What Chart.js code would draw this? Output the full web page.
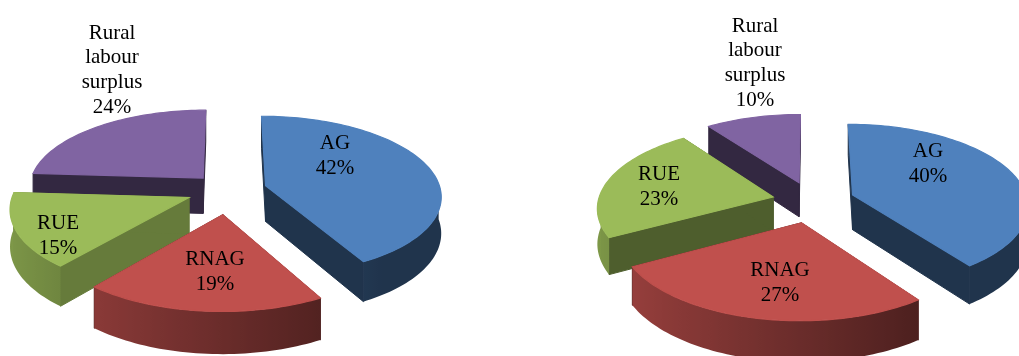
<!DOCTYPE html>
<html>
<head>
<meta charset="utf-8">
<style>
  html, body { margin: 0; background: #fff; overflow: hidden; }
  #wrap { position: relative; width: 1019px; height: 356px; }
  canvas { position: absolute; top: 0; }
</style>
<script src="https://cdn.jsdelivr.net/npm/chart.js@4"></script>
</head>
<body>
<div id="wrap">
  <canvas id="pieLeft" width="510" height="356" style="left:0"></canvas>
  <canvas id="pieRight" width="509" height="356" style="left:510px"></canvas>
</div>
<script>
const categories = ["AG", "RNAG", "RUE", "Rural labour surplus"];
const leftValues = [42, 19, 15, 24];
const rightValues = [40, 27, 23, 10];
const sliceColors = ["#4f81bd", "#c0504d", "#9bbb59", "#8064a2"];

function shade(hex, f) {
  const n = parseInt(hex.slice(1), 16);
  const r = Math.round((n >> 16) * f);
  const g = Math.round(((n >> 8) & 255) * f);
  const b = Math.round((n & 255) * f);
  return `rgb(${r},${g},${b})`;
}

// Chart.js has no 3D pie, so this redraws its arc elements tilted with perspective
const tiltedPie = {
  id: "tiltedPie",
  beforeDatasetsDraw(chart, args, opts) {
    const ctx = chart.ctx;
    const meta = chart.getDatasetMeta(0);
    const arcs = meta.data.map((arc, i) => {
      const start = arc.startAngle + Math.PI / 2;
      const end = arc.endAngle + Math.PI / 2;
      return { arc, i, start, end, mid: (start + end) / 2 };
    });
    arcs.sort((a, b) => Math.cos(b.mid) - Math.cos(a.mid));

    arcs.forEach(({ arc, i, start, end, mid }) => {
      const R = arc.outerRadius;
      const off = arc.options.offset;
      const color = arc.options.backgroundColor;
      const ox = off * Math.sin(mid);
      const oz = off * Math.cos(mid);
      const project = (theta, r, drop) => {
        const X = ox + r * Math.sin(theta);
        const Z = oz + r * Math.cos(theta);
        const s = 1 / (1 + opts.persp * Z / R);
        return {
          x: arc.x + X * s,
          y: arc.y - opts.squash * Z * s + drop * opts.depth * s,
        };
      };

      // radial cut walls, stroked so no seam shows against the rim
      ctx.fillStyle = ctx.strokeStyle = shade(color, opts.wallShade[i]);
      ctx.lineWidth = 1;
      [start, end].forEach((t) => {
        const pts = [project(t, 0, 0), project(t, R, 0), project(t, R, 1), project(t, 0, 1)];
        ctx.beginPath();
        pts.forEach((p) => ctx.lineTo(p.x, p.y));
        ctx.closePath();
        ctx.fill();
        ctx.stroke();
      });

      // rim, only the part facing us, lighter on the left
      const step = Math.PI / 120;
      const front = [];
      for (let t = start; t < end; t += step) {
        if (Math.cos(t) <= 0.05) front.push(t);
      }
      if (Math.cos(end) <= 0.05) front.push(end);
      if (front.length > 1) {
        const tops = front.map((t) => project(t, R, 0));
        const bottoms = front.map((t) => project(t, R, 1));
        const xs = tops.map((p) => p.x);
        const minX = Math.min(...xs);
        const maxX = Math.max(...xs);
        const grad = ctx.createLinearGradient(minX, 0, maxX, 0);
        front.forEach((t, j) => {
          const f = Math.max(0.4, 0.553 - 0.258 * Math.sin(t));
          grad.addColorStop((xs[j] - minX) / (maxX - minX || 1), shade(color, f));
        });
        ctx.beginPath();
        tops.forEach((p) => ctx.lineTo(p.x, p.y));
        bottoms.reverse().forEach((p) => ctx.lineTo(p.x, p.y));
        ctx.closePath();
        ctx.fillStyle = grad;
        ctx.fill();
      }

      // top face
      ctx.beginPath();
      const apex = project(0, 0, 0);
      ctx.moveTo(apex.x, apex.y);
      for (let t = start; t < end; t += step) {
        const p = project(t, R, 0);
        ctx.lineTo(p.x, p.y);
      }
      const last = project(end, R, 0);
      ctx.lineTo(last.x, last.y);
      ctx.closePath();
      ctx.fillStyle = ctx.strokeStyle = color;
      ctx.fill();
      ctx.lineWidth = 1.2;
      ctx.stroke();
    });

    // labels
    ctx.fillStyle = "#000";
    ctx.font = '21px "Liberation Serif", serif';
    ctx.textAlign = "center";
    ctx.textBaseline = "middle";
    chart.data.labels.forEach((name, i) => {
      const lines = name.split(" ").concat(chart.data.datasets[0].data[i] + "%");
      const spot = opts.labelSpots[i];
      lines.forEach((line, j) => {
        ctx.fillText(line, spot[0], spot[1] + (j - (lines.length - 1)) * opts.lineGap);
      });
    });
    return false;
  },
};

function makePie(id, values, explode, radius, padding, tilt) {
  new Chart(document.getElementById(id), {
    type: "pie",
    data: {
      labels: categories,
      datasets: [{
        data: values,
        backgroundColor: sliceColors,
        offset: explode,
        radius: radius,
        borderWidth: 0,
      }],
    },
    options: {
      responsive: false,
      animation: false,
      layout: { padding: padding },
      plugins: {
        legend: { display: false },
        tooltip: { enabled: false },
        tiltedPie: tilt,
      },
    },
    plugins: [tiltedPie],
  });
}

makePie("pieLeft", leftValues, [39, 53, 42, 37], 175, { right: 54, top: 24 }, {
  squash: 0.45,
  persp: 0.12,
  depth: 36,
  lineGap: 24.6,
  wallShade: [0.4, 0.4, 0.66, 0.4],
  labelSpots: [[335, 168], [215, 284], [58, 248], [112, 107]],
});

makePie("pieRight", rightValues, [43, 47, 40, 43], 175, { left: 95, top: 46 }, {
  squash: 0.46,
  persp: 0.12,
  depth: 35,
  lineGap: 24.6,
  wallShade: [0.4, 0.4, 0.5, 0.4],
  labelSpots: [[418, 176], [270, 295], [149, 199], [245, 100]],
});
</script>
</body>
</html>
